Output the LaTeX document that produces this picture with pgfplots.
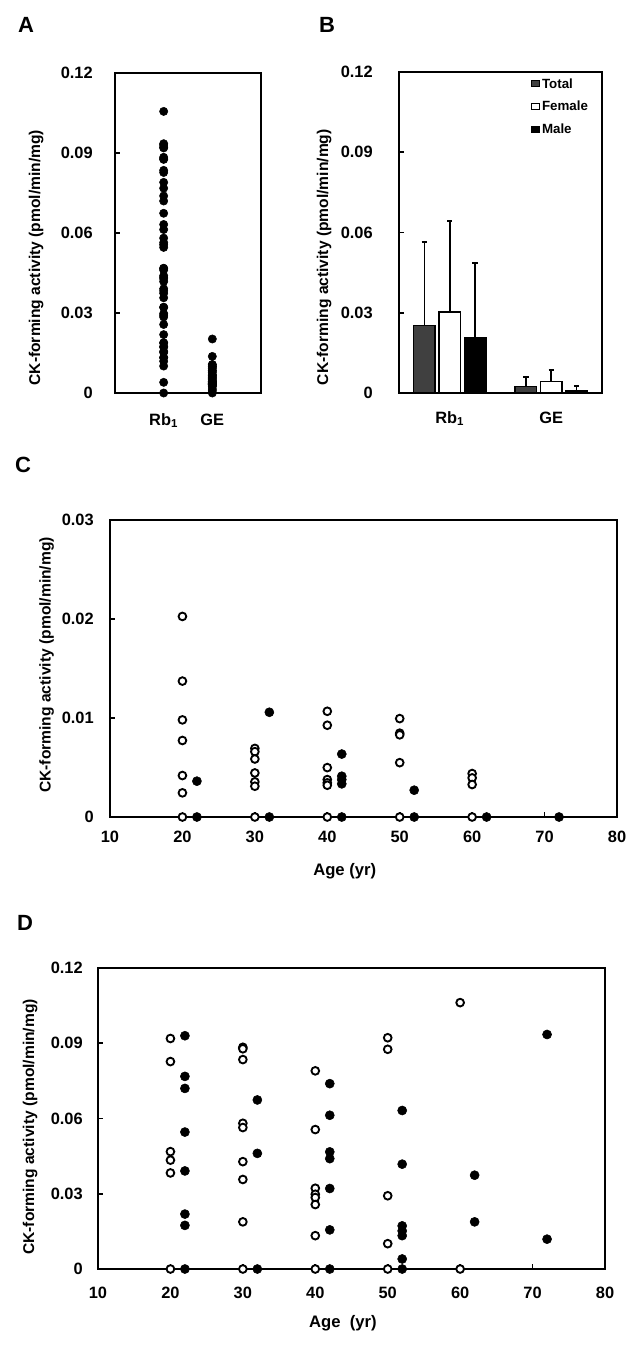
\documentclass[border=0pt]{standalone}
\usepackage{fontspec}
\setmainfont{Liberation Sans}
\usepackage{pgfplots}
\pgfplotsset{compat=1.18}
\definecolor{totalgray}{HTML}{404040}

\pgfplotsset{
  panel/.style={
    scale only axis, anchor=north west,
    axis line style={line width=1.5pt, black},
    tick style={line width=1.2pt, black},
    tick align=inside, major tick length=4pt,
    ytick pos=left, xtick pos=bottom,
    /pgf/number format/assume math mode=true,
    /pgf/number format/fixed,
    /pgf/number format/precision=2,
    tick label style={font=\fontsize{12.3}{14}\selectfont\bfseries},
    label style={font=\fontsize{11.7}{14}\selectfont\bfseries},
    scaled y ticks=false,
    clip=false,
    ymin=0,
  },
  fem/.style={only marks, mark=*, mark size=2.9pt, mark options={fill=white, draw=black, line width=1.4pt}},
  mal/.style={only marks, mark=*, mark size=3.4pt, mark options={fill=black, draw=black}},
}

\begin{document}
\begin{tikzpicture}
\useasboundingbox (0pt,0pt) rectangle (480.75pt,-1010.25pt);

\node[font=\fontsize{16.5}{18}\selectfont\bfseries] at (19.5pt,-18.75pt) {A};
\node[font=\fontsize{16.5}{18}\selectfont\bfseries] at (245.25pt,-18.75pt) {B};
\node[font=\fontsize{16.5}{18}\selectfont\bfseries] at (17.25pt,-348.75pt) {C};
\node[font=\fontsize{16.5}{18}\selectfont\bfseries] at (18.75pt,-692.25pt) {D};

% ---------------- Panel A ----------------
\begin{axis}[panel, at={(86.25pt,-54.75pt)}, width=109.5pt, height=240pt,
  xmin=0, xmax=3, ymax=0.12, ytick={0,0.03,0.06,0.09,0.12},
  xtick={1,2}, xticklabels={Rb\textsubscript{1},GE}, x tick style={draw=none},
  yticklabel style={anchor=east, inner sep=0pt, xshift=-16.5pt},
  xticklabel style={anchor=base, inner sep=0pt, yshift=-24.4pt},
  ylabel={CK-forming activity (pmol/min/mg)},
  ylabel style={at={(axis description cs:-0.541,0.423)}, anchor=center},
]
\addplot[only marks, mark=*, mark size=3.1pt, black] coordinates {
(1,0.0919) (1,0.0827) (1,0.0468) (1,0.0434) (1,0.0383) (1,0)
(1,0.0930) (1,0.0768) (1,0.0720) (1,0.0546) (1,0.0391) (1,0.0219) (1,0.0174)
(1,0.0884) (1,0.0878) (1,0.0835) (1,0.0581) (1,0.0564) (1,0.0428) (1,0.0357) (1,0.0188)
(1,0.0674) (1,0.0461)
(1,0.0790) (1,0.0556) (1,0.0322) (1,0.0298) (1,0.0285) (1,0.0257) (1,0.0133)
(1,0.0739) (1,0.0613) (1,0.0467) (1,0.0440) (1,0.0321) (1,0.0156)
(1,0.0922) (1,0.0876) (1,0.0292) (1,0.0101)
(1,0.0632) (1,0.0418) (1,0.0172) (1,0.0152) (1,0.0133) (1,0.0040)
(1,0.1056)
(1,0.0374) (1,0.0188)
(1,0.0935) (1,0.0119)
};
\addplot[only marks, mark=*, mark size=3.1pt, black] coordinates {
(2,0.02026) (2,0.01373) (2,0.00981) (2,0.00773) (2,0.00419) (2,0.00244) (2,0)
(2,0.00362)
(2,0.00693) (2,0.0066) (2,0.00586) (2,0.00445) (2,0.00355) (2,0.00311)
(2,0.01058)
(2,0.01068) (2,0.00927) (2,0.00499) (2,0.00378) (2,0.00345) (2,0.00321)
(2,0.00636) (2,0.00412) (2,0.00335)
(2,0.00994) (2,0.00847) (2,0.0083) (2,0.00549)
(2,0.00271)
(2,0.00439) (2,0.00395) (2,0.00328)
(2,0.0015) (2,0.0008)
};
\end{axis}

% ---------------- Panel B ----------------
\begin{axis}[panel, at={(299.25pt,-54pt)}, width=152.25pt, height=240.75pt,
  xmin=0.5, xmax=2.5, ymax=0.12, ytick={0,0.03,0.06,0.09,0.12},
  xtick={1,2}, xticklabels={Rb\textsubscript{1},GE}, x tick style={draw=none},
  yticklabel style={anchor=east, inner sep=0pt, xshift=-19.5pt},
  xticklabel style={anchor=base, inner sep=0pt, yshift=-22.9pt},
  ylabel={CK-forming activity (pmol/min/mg)},
  ylabel style={at={(axis description cs:-0.369,0.423)}, anchor=center},
  legend style={at={(axis description cs:0.65,0.981)}, anchor=north west,
    draw=none, fill=none, font=\fontsize{10}{11}\selectfont\bfseries,
    row sep=8.4pt, column sep=1.2pt, inner sep=0pt, nodes={inner sep=0pt}},
  legend cell align=left,
]
\addplot[forget plot, ybar, bar width=0.21, bar shift=0pt, fill=totalgray, draw=black, line width=1.1pt,
  error bars/y dir=plus, error bars/y explicit,
  error bars/error bar style={line width=1.2pt, black},
  error bars/error mark options={rotate=90, mark size=2pt, line width=1.2pt, black}]
  coordinates {(0.75,0.0253) +- (0,0.0311) (1.75,0.0025) +- (0,0.0035)};
\addplot[forget plot, ybar, bar width=0.21, bar shift=0pt, fill=white, draw=black, line width=1.1pt,
  error bars/y dir=plus, error bars/y explicit,
  error bars/error bar style={line width=1.2pt, black},
  error bars/error mark options={rotate=90, mark size=2pt, line width=1.2pt, black}]
  coordinates {(1,0.0303) +- (0,0.0340) (2,0.0044) +- (0,0.0041)};
\addplot[forget plot, ybar, bar width=0.21, bar shift=0pt, fill=black, draw=black, line width=1.1pt,
  error bars/y dir=plus, error bars/y explicit,
  error bars/error bar style={line width=1.2pt, black},
  error bars/error mark options={rotate=90, mark size=2pt, line width=1.2pt, black}]
  coordinates {(1.25,0.0207) +- (0,0.0280) (2.25,0.0007) +- (0,0.0019)};
\addlegendimage{legend image code/.code={\draw[fill=totalgray,draw=black,line width=0.9pt] (0pt,-1.6pt) rectangle (6pt,2.8pt);}}
\addlegendentry{Total}
\addlegendimage{legend image code/.code={\draw[fill=white,draw=black,line width=0.9pt] (0pt,-1.6pt) rectangle (6pt,2.8pt);}}
\addlegendentry{Female}
\addlegendimage{legend image code/.code={\draw[fill=black,draw=black,line width=0.9pt] (0pt,-1.6pt) rectangle (6pt,2.8pt);}}
\addlegendentry{Male}
\end{axis}

% ---------------- Panel C ----------------
\begin{axis}[panel, at={(82.5pt,-390pt)}, width=380.25pt, height=222.75pt,
  xmin=10, xmax=80, xtick={10,20,30,40,50,60,70,80},
  ymax=0.03, ytick={0,0.01,0.02,0.03},
  yticklabel style={anchor=east, inner sep=0pt, xshift=-12pt},
  xticklabel style={anchor=base, inner sep=0pt, yshift=-19.1pt},
  ylabel={CK-forming activity (pmol/min/mg)},
  ylabel style={at={(axis description cs:-0.125,0.512)}, anchor=center},
  xlabel={Age (yr)},
  xlabel style={at={(axis description cs:0.463,0)}, anchor=base, yshift=-43.5pt, font=\fontsize{12.5}{14}\selectfont\bfseries},
]
\addplot[fem] coordinates {
(20,0.02026) (20,0.01373) (20,0.00981) (20,0.00773) (20,0.00419) (20,0.00244) (20,0)
(30,0.00693) (30,0.0066) (30,0.00586) (30,0.00445) (30,0.00355) (30,0.00311) (30,0)
(40,0.01068) (40,0.00927) (40,0.00499) (40,0.00378) (40,0.00345) (40,0.00321) (40,0)
(50,0.00994) (50,0.00847) (50,0.0083) (50,0.00549) (50,0)
(60,0.00439) (60,0.00395) (60,0.00328) (60,0)
};
\addplot[mal] coordinates {
(22,0.00362) (22,0)
(32,0.01058) (32,0)
(42,0.00636) (42,0.00412) (42,0.00378) (42,0.00335) (42,0)
(52,0.00271) (52,0)
(62,0)
(72,0)
};
\end{axis}

% ---------------- Panel D ----------------
\begin{axis}[panel, at={(73.5pt,-726pt)}, width=380.25pt, height=225.75pt,
  xmin=10, xmax=80, xtick={10,20,30,40,50,60,70,80},
  ymax=0.12, ytick={0,0.03,0.06,0.09,0.12},
  yticklabel style={anchor=east, inner sep=0pt, xshift=-11.25pt},
  xticklabel style={anchor=base, inner sep=0pt, yshift=-22.1pt},
  ylabel={CK-forming activity (pmol/min/mg)},
  ylabel style={at={(axis description cs:-0.134,0.472)}, anchor=center},
  xlabel={Age\ \ (yr)},
  xlabel style={at={(axis description cs:0.483,0)}, anchor=base, yshift=-43.9pt, font=\fontsize{12.5}{14}\selectfont\bfseries},
]
\addplot[fem] coordinates {
(20,0.0919) (20,0.0827) (20,0.0468) (20,0.0434) (20,0.0383) (20,0)
(30,0.0884) (30,0.0878) (30,0.0835) (30,0.0581) (30,0.0564) (30,0.0428) (30,0.0357) (30,0.0188) (30,0)
(40,0.0790) (40,0.0556) (40,0.0322) (40,0.0298) (40,0.0285) (40,0.0257) (40,0.0133) (40,0)
(50,0.0922) (50,0.0876) (50,0.0292) (50,0.0101) (50,0)
(60,0.1062) (60,0)
};
\addplot[mal] coordinates {
(22,0.0930) (22,0.0768) (22,0.0720) (22,0.0546) (22,0.0391) (22,0.0219) (22,0.0174) (22,0)
(32,0.0674) (32,0.0461) (32,0)
(42,0.0739) (42,0.0613) (42,0.0467) (42,0.0440) (42,0.0321) (42,0.0156) (42,0)
(52,0.0632) (52,0.0418) (52,0.0172) (52,0.0152) (52,0.0133) (52,0.0040) (52,0)
(62,0.0374) (62,0.0188)
(72,0.0935) (72,0.0119)
};
\end{axis}
\end{tikzpicture}
\end{document}
